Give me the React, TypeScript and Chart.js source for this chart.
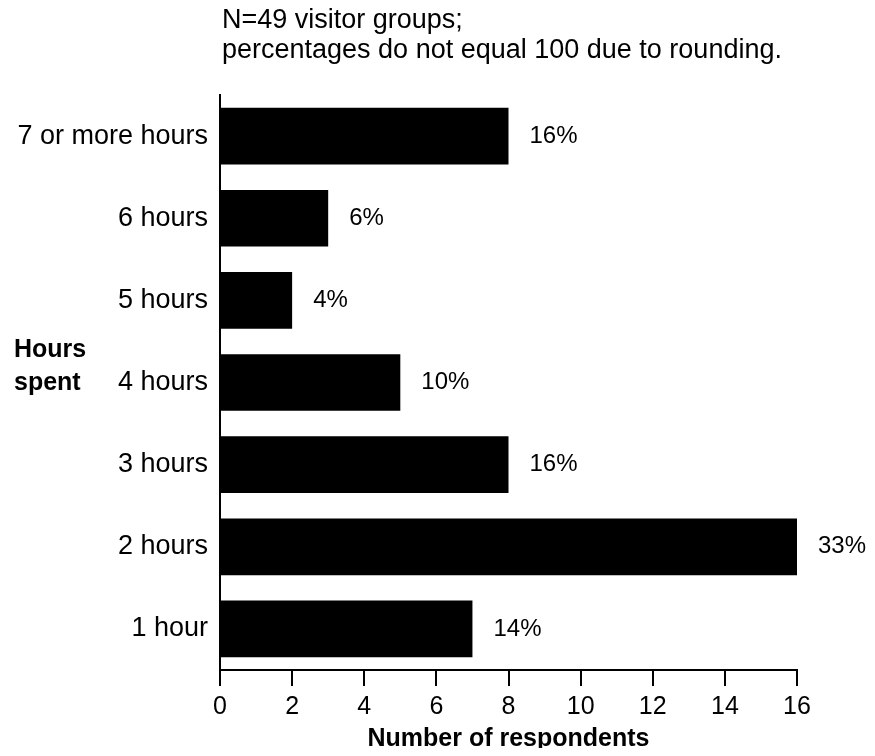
import React, { useEffect, useRef } from 'react';
import { Chart, registerables } from 'chart.js';

Chart.register(...registerables);

const categories = ['7 or more hours', '6 hours', '5 hours', '4 hours', '3 hours', '2 hours', '1 hour'];
const respondents = [8, 3, 2, 5, 8, 16, 7];
const percentLabels = ['16%', '6%', '4%', '10%', '16%', '33%', '14%'];
const xMin = 0;
const xMax = 16;
const xStep = 2;
const subtitleLines = ['N=49 visitor groups;', 'percentages do not equal 100 due to rounding.'];
const yAxisTitleLines = ['Hours', 'spent'];
const xAxisTitle = 'Number of respondents';

const FONT = '"Liberation Sans", Arial, Helvetica, sans-serif';

const annotatePlugin = {
  id: 'annotate',
  afterDatasetsDraw(chart: any) {
    const ctx = chart.ctx;
    const meta = chart.getDatasetMeta(0);
    ctx.save();
    ctx.fillStyle = '#000';
    ctx.font = `24px ${FONT}`;
    ctx.textAlign = 'left';
    ctx.textBaseline = 'middle';
    meta.data.forEach((bar: any, i: number) => {
      ctx.fillText(percentLabels[i], bar.x + 21, bar.y);
    });
    ctx.font = `27px ${FONT}`;
    ctx.textBaseline = 'alphabetic';
    subtitleLines.forEach((line, i) => {
      ctx.fillText(line, chart.chartArea.left + 2, 20 + i * 30);
    });
    ctx.font = `bold 25px ${FONT}`;
    yAxisTitleLines.forEach((line, i) => {
      ctx.fillText(line, 6, 349 + i * 33);
    });
    ctx.restore();
  },
};

export default function App() {
  const canvasRef = useRef<HTMLCanvasElement | null>(null);

  useEffect(() => {
    if (!canvasRef.current) return;
    const chart = new Chart(canvasRef.current, {
      type: 'bar',
      data: {
        labels: categories,
        datasets: [
          {
            data: respondents,
            backgroundColor: '#000',
            borderWidth: 0,
            barPercentage: 0.69,
            categoryPercentage: 1,
          },
        ],
      },
      options: {
        indexAxis: 'y',
        responsive: false,
        animation: false,
        devicePixelRatio: 1,
        layout: { padding: { top: 87, right: 78, left: 0, bottom: 0 } },
        plugins: {
          legend: { display: false },
          tooltip: { enabled: false },
          title: { display: false },
        },
        scales: {
          x: {
            type: 'linear',
            min: xMin,
            max: xMax,
            ticks: {
              stepSize: xStep,
              color: '#000',
              font: { size: 25, family: FONT },
              padding: 6,
            },
            grid: {
              display: true,
              drawOnChartArea: false,
              drawTicks: true,
              tickLength: 16,
              color: '#000',
              lineWidth: 2,
            },
            border: { display: true, color: '#000', width: 2 },
            title: {
              display: true,
              text: xAxisTitle,
              color: '#000',
              font: { size: 25, weight: 'bold', family: FONT },
              padding: { top: 0, bottom: -6 },
            },
            afterFit(scale: any) {
              scale.height = 78;
            },
          },
          y: {
            ticks: {
              color: '#000',
              font: { size: 27, family: FONT },
              padding: 12,
            },
            grid: { display: false, drawTicks: false },
            border: { display: true, color: '#000', width: 2 },
            afterFit(scale: any) {
              scale.width = 212;
            },
          },
        },
      },
      plugins: [annotatePlugin],
    } as any);
    return () => chart.destroy();
  }, []);

  return (
    <div style={{ width: 867, height: 740 }}>
      <canvas ref={canvasRef} width={867} height={740} style={{ display: 'block' }} />
    </div>
  );
}
